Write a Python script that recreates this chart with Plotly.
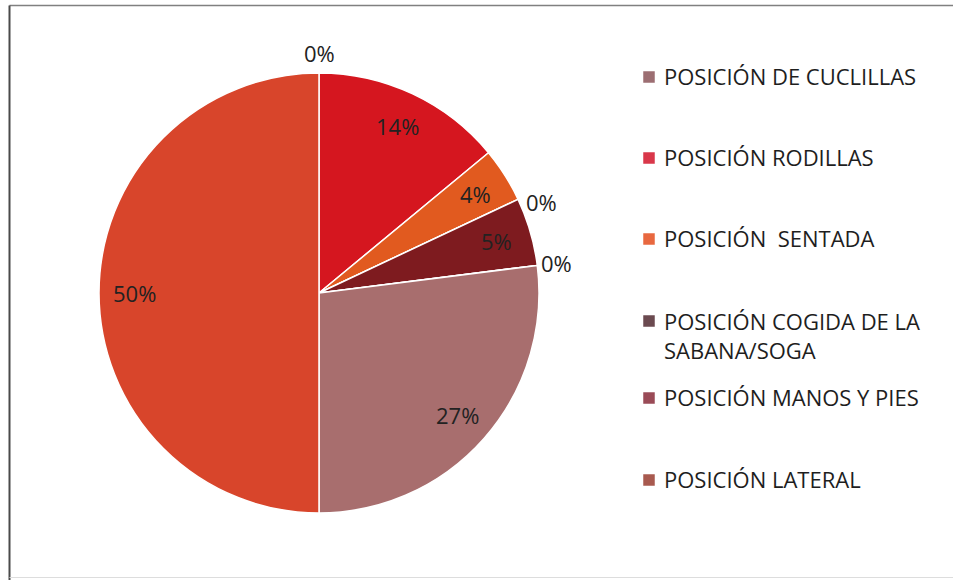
import math
import plotly.graph_objects as go

# Distribution of birth positions (percent of cases)
categories = [
    "POSICIÓN DE CUCLILLAS",
    "POSICIÓN RODILLAS",
    "POSICIÓN \u00a0SENTADA",
    "POSICIÓN COGIDA DE LA<br>SABANA/SOGA",
    "POSICIÓN MANOS Y PIES",
    "POSICIÓN LATERAL",
    "OTRA POSICIÓN 1",
    "OTRA POSICIÓN 2",
]
values = [0, 14, 4, 0, 5, 0, 27, 50]

slice_colors = ["#9C6E72", "#D5161F", "#E15A1F", "#6E4A52",
                "#7E1B1F", "#A65A50", "#A86E6E", "#D8452B"]
swatch_colors = ["#9C6E72", "#D9374A", "#E8683F", "#6B4A50", "#9A4B57", "#A85A4F"]
legend_count = 6

# Page geometry (pixels)
W, H = 953, 580
CX, CY, R = 319, 293, 220

fig = go.Figure(go.Pie(
    labels=categories,
    values=values,
    sort=False,
    direction="clockwise",
    rotation=0,
    textinfo="none",
    hoverinfo="label+percent",
    marker=dict(colors=slice_colors, line=dict(color="white", width=1.5)),
    domain=dict(x=[(CX - R) / W, (CX + R) / W],
                y=[(H - CY - R) / H, (H - CY + R) / H]),
    showlegend=False,
))

annotations = []
shapes = []

# Percentage labels placed along each slice's angle
total = sum(values)
label_nudge_deg = [0, 0, 0, 3, 0, 0, 0, 0]
cum = 0
for v, nudge in zip(values, label_nudge_deg):
    if v > 0:
        ang = (cum + v / 2) / total * 360
        k = 0.84
    else:
        ang = cum / total * 360 + nudge
        k = 1.09
    a = math.radians(ang)
    px = CX + k * R * math.sin(a)
    py = CY - k * R * math.cos(a)
    annotations.append(dict(
        x=px / W, y=(H - py) / H, xref="paper", yref="paper",
        text=f"{round(v / total * 100)}%", showarrow=False,
        xanchor="center", yanchor="middle",
        font=dict(family="Open Sans", size=22, color="#222222"),
    ))
    cum += v

# Legend: swatch + label per category
row_y = [76, 157, 238, 335, 397, 479]
swatch_y = [77, 158, 239, 321, 398, 480]
SW_X, SW = 649, 11.5
TEXT_X = 662
for i in range(legend_count):
    annotations.append(dict(
        x=TEXT_X / W, y=(H - row_y[i]) / H, xref="paper", yref="paper",
        text=categories[i], showarrow=False, align="left",
        xanchor="left", yanchor="middle",
        font=dict(family="Open Sans", size=22, color="#1e1e1e"),
    ))
    shapes.append(dict(
        type="rect", xref="paper", yref="paper",
        x0=(SW_X - SW / 2) / W, x1=(SW_X + SW / 2) / W,
        y0=(H - swatch_y[i] - SW / 2) / H, y1=(H - swatch_y[i] + SW / 2) / H,
        fillcolor=swatch_colors[i], line=dict(width=0),
    ))

# Chart frame
shapes += [
    dict(type="line", xref="paper", yref="paper",
         x0=9.5 / W, x1=1, y0=(H - 5.5) / H, y1=(H - 5.5) / H,
         line=dict(color="#808080", width=1.5)),
    dict(type="line", xref="paper", yref="paper",
         x0=9.5 / W, x1=9.5 / W, y0=(H - 5.5) / H, y1=0,
         line=dict(color="#4a4a4a", width=2)),
    dict(type="line", xref="paper", yref="paper",
         x0=9.5 / W, x1=1, y0=2.5 / H, y1=2.5 / H,
         line=dict(color="#dddddd", width=1)),
]

fig.update_layout(
    width=W, height=H,
    margin=dict(l=0, r=0, t=0, b=0),
    paper_bgcolor="white",
    plot_bgcolor="white",
    annotations=annotations,
    shapes=shapes,
)

fig.write_html("out.html")
